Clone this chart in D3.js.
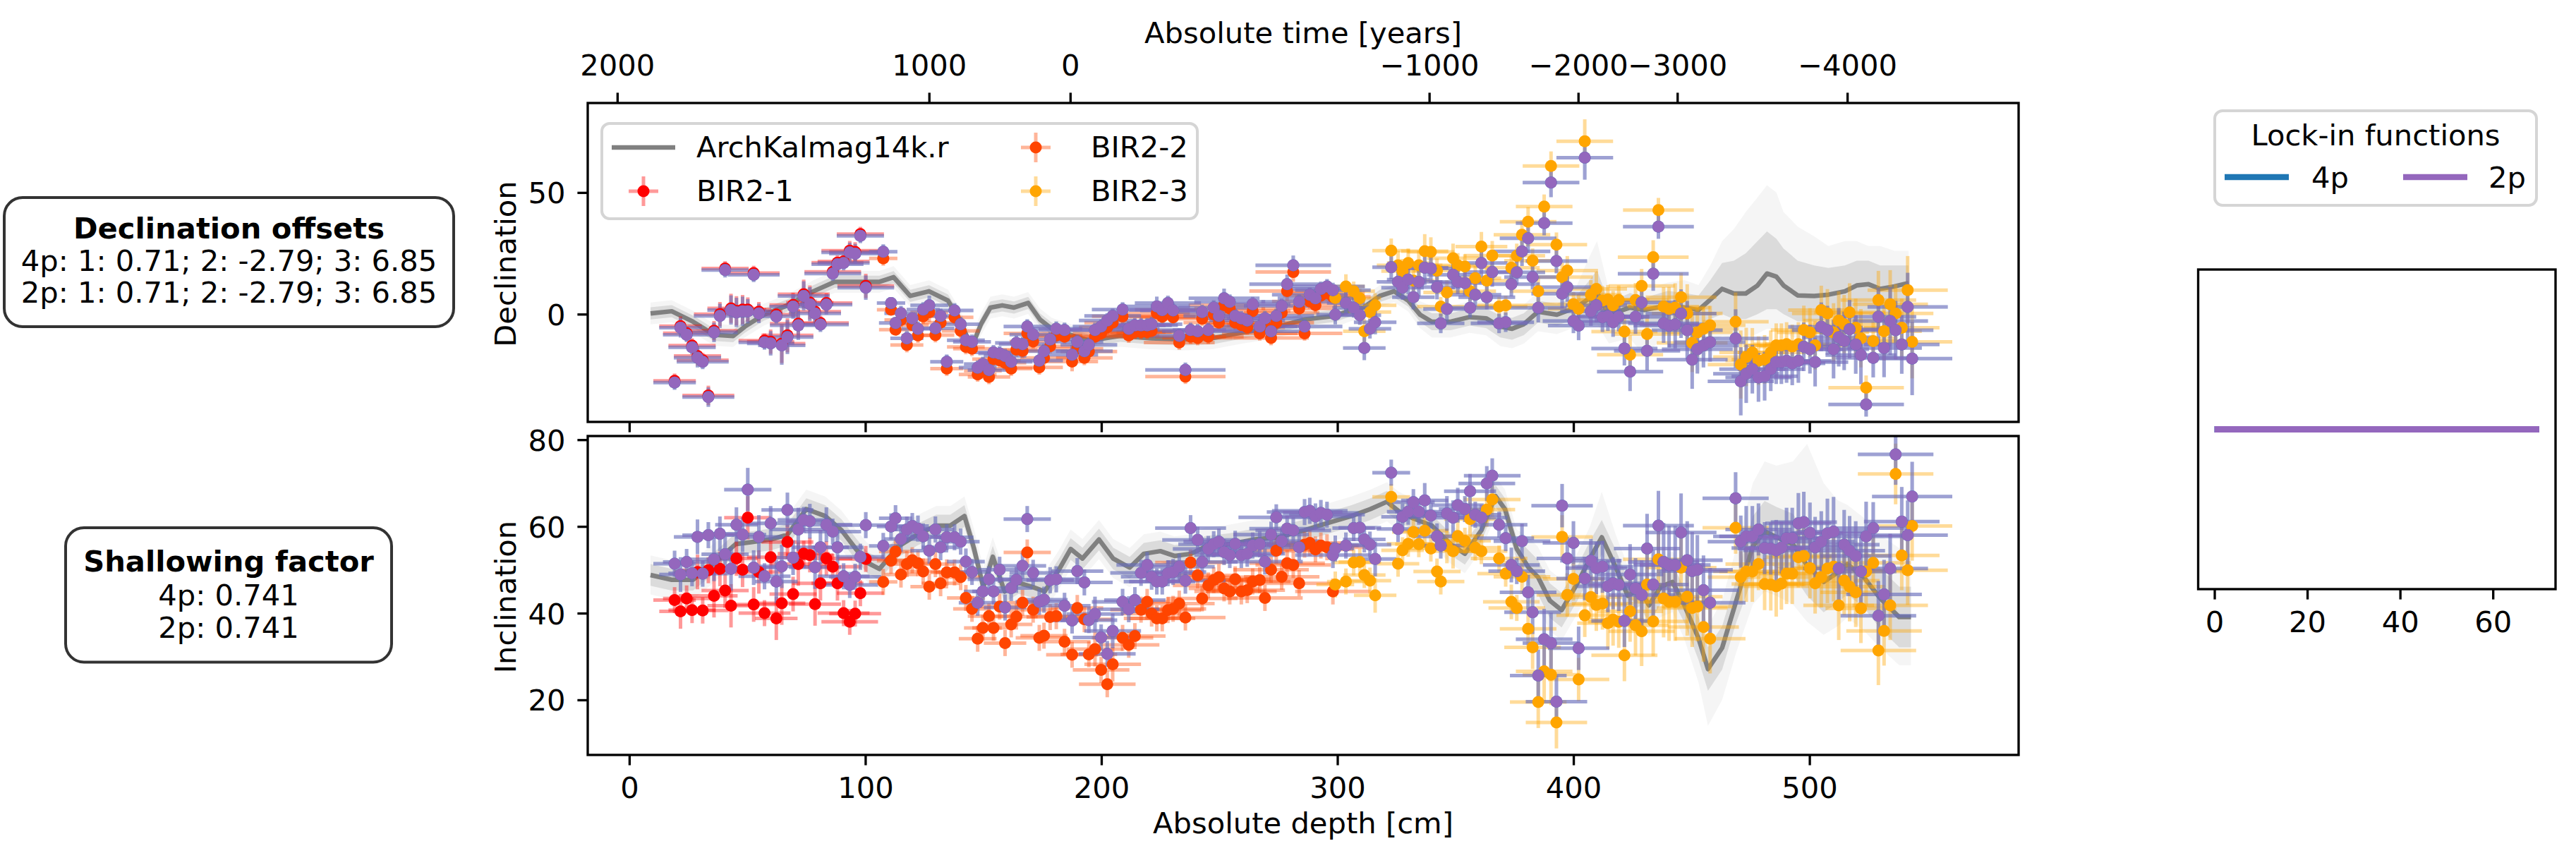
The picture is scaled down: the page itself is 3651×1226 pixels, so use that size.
<!DOCTYPE html>
<html><head><meta charset="utf-8">
<script src="https://cdn.jsdelivr.net/npm/d3@7"></script>
<style>body{margin:0;background:#fff}</style>
</head><body><svg id="chart" width="3651" height="1226" xmlns="http://www.w3.org/2000/svg"></svg>
<script>
// ---------------- DATA ----------------
const timeTickLabels = ["2000", "1000", "0", "\u22121000", "\u22122000", "\u22123000", "\u22124000"];
const timeTickDepth = [-5.1, 127, 186.8, 338.9, 402, 444, 516];
const depthTicks = [0, 100, 200, 300, 400, 500];
const decTicks = [0, 50];
const incTicks = [20, 40, 60, 80];
const lockTicks = [0, 20, 40, 60];

const lockNames = ["4p", "2p"];
const decOffsets4p = [0.71, -2.79, 6.85];
const decOffsets2p = [0.71, -2.79, 6.85];
const shallowing = [0.741, 0.741];

// lock-in functions (right panel)
const lockX = [0, 70];
const lock4p = [1, 1];
const lock2p = [1, 1];

// ArchKalmag14k.r model: mean, inner ensemble spread, outer ensemble spread
const modelDecDepth = [9,18,27,36,44,49,57,67,78,87,96,106,112,119,127,135,140,145,149,153,158,163,169,174,179,188,195,208,221,234,247,260,273,286,299,306,311,318,324,330,335,340,348,356,363,369,374,379,385,393,401,406,410,415,424,430,440,447,453,458,463,468,473,478,482,486,489,495,502,508,515,520,525,530,536,542];
const modelDec = [0.3,1.2,-3.1,-8.5,-9.0,-5.1,-0.2,3.6,9.4,13.3,13.3,13.3,15.2,7.5,9.4,5.6,-2.2,-13.8,-4.1,2.7,3.6,2.7,4.6,-2.2,-6.0,-8.9,-10.9,-8.9,-9.9,-10.4,-9.9,-7.5,-5.6,-2.2,-0.7,1.7,2.7,7.5,9.4,5.6,-0.2,-3.1,-3.1,-1.2,-1.7,-5.1,-6.0,-4.1,1.0,-0.2,2.7,6.0,9.0,-0.2,2.7,1.7,3.6,2.7,1.7,6.0,10.4,8.5,8.5,11.8,16.7,15.4,11.8,7.7,7.5,8.0,9.4,11.8,12.3,10.4,11.4,12.8];
const modelDecLo = [-2.2,-1.3,-5.6,-11,-11.5,-7.6,-2.7,1.1,6.9,10.8,10.8,10.8,12.7,5,6.9,3.1,-4.7,-16.3,-6.6,0.2,1.1,0.2,2.1,-4.7,-8.5,-11.4,-13.4,-11.4,-12.4,-12.9,-12.4,-10,-8.1,-4.7,-3.2,-0.8,0.2,5,6.9,3.1,-3.2,-6.6,-6.6,-4.7,-5.7,-9.6,-10.5,-8.6,-3.5,-4.7,-1.8,-1,0,-5.2,-3.3,-5.3,-2.4,-3.3,-4.3,-2,0,-2,-2,0,2,2,0,-3,-3,-2,0,0,0,-2,-2,0];
const modelDecHi = [2.8,3.7,-0.6,-6,-6.5,-2.6,2.3,6.1,11.9,15.8,15.8,15.8,17.7,10,11.9,8.1,0.3,-11.3,-1.6,5.2,6.1,5.2,7.1,0.3,-3.5,-6.4,-8.4,-6.4,-7.4,-7.9,-7.4,-5,-3.1,0.3,1.8,4.2,5.2,10,11.9,8.1,2.8,0.4,0.4,2.3,2.3,-0.6,-1.5,0.4,5.5,4.3,7.2,13,18,4.8,8.7,6.7,9.6,8.7,7.7,14,21,22,25,30,34,31,27,22,20,19,20,22,22,20,20,20];
const modelDecOLo = [-4.2,-3.3,-7.6,-13,-13.5,-9.6,-4.7,-0.9,4.9,8.8,8.8,8.8,10.7,3,4.9,1.1,-6.7,-18.3,-8.6,-1.8,-0.9,-1.8,0.1,-6.7,-10.5,-13.4,-15.4,-13.4,-14.4,-14.9,-14.4,-12,-10.1,-6.7,-5.2,-2.8,-1.8,3,4.9,1.1,-5.7,-9.6,-9.6,-7.7,-8.7,-13.1,-14,-12.1,-7,-8.2,-5.3,-5,-4,-12,-10,-17,-8,-9,-25,-12,-9,-10,-10,-8,-6,-6,-8,-10,-10,-8,-6,-6,-6,-8,-8,-6];
const modelDecOHi = [4.8,5.7,1.4,-4,-4.5,-0.6,4.3,8.1,13.9,17.8,17.8,17.8,19.7,12,13.9,10.1,2.3,-9.3,0.4,7.2,8.1,7.2,9.1,2.3,-1.5,-4.4,-6.4,-4.4,-5.4,-5.9,-5.4,-3,-1.1,2.3,3.8,6.2,7.2,12,13.9,10.1,5.3,3.4,3.4,5.3,5.3,2.9,2,3.9,9,7.8,10.7,22,30,10,12,10,13,14,12,20,30,35,42,48,53,50,42,36,32,28,30,30,28,28,26,26];

const modelIncDepth = [9,18,27,36,45,52,60,67,75,83,90,96,101,106,114,122,130,136,142,146,150,154,159,165,171,176,182,187,192,199,205,212,218,225,231,238,244,254,265,275,286,296,306,314,321,326,332,340,348,354,361,367,371,376,381,385,390,395,402,407,412,418,423,428,432,437,442,447,453,457,463,469,476,481,486,493,499,506,512,516,523,530,538,543];
const modelInc = [48.8,47.7,47.7,51.6,55.9,56.4,57.0,58.1,64.0,62.4,59.1,54.8,51.6,50.2,55.4,58.1,60.2,60.2,62.4,55,46,53,45,47,46,45,50,54.8,52.6,57.0,52.6,50.5,53.7,54.3,53.2,53.7,55.3,55.9,57.0,57.5,59.1,60.8,62.4,64.0,65.7,63.5,61.9,60.2,55.9,53.7,59.1,67,64.0,54.8,50.5,48.3,42.9,40.7,47.2,52.6,57.5,50.5,44.0,45.6,41.8,46.1,47.2,41.8,34.2,27.1,32.0,42.9,55.4,58.9,57.5,55.9,51.0,47.2,49.4,51.3,48.3,43.4,39.1,39.1];
const modelIncLo = [46.3,45.2,45.2,49.1,53.4,53.9,54.5,55.6,61.5,59.9,56.6,52.3,49.1,47.7,52.9,55.6,57.7,57.7,59.9,52.5,43.5,50.5,42.5,44.5,43.5,42.5,47.5,52.3,50.1,54.5,50.1,48,51.2,51.8,50.7,51.2,52.8,53.4,54.5,55,56.6,58.3,59.9,61.5,63.2,61,59.4,57.7,53.4,51.2,56.6,64.5,61.5,52.3,46.5,44.3,38.9,36.7,43.2,48.6,53.5,46.5,40,41.6,37.8,42.1,43.2,37.8,29.2,22.1,27,37.9,48.4,51.9,50.5,48.9,44,40.2,42.4,44.3,41.3,36.4,32.1,32.1];
const modelIncHi = [51.3,50.2,50.2,54.1,58.4,58.9,59.5,60.6,66.5,64.9,61.6,57.3,54.1,52.7,57.9,60.6,62.7,62.7,64.9,57.5,48.5,55.5,47.5,49.5,48.5,47.5,52.5,57.3,55.1,59.5,55.1,53,56.2,56.8,55.7,56.2,57.8,58.4,59.5,60,61.6,63.3,64.9,66.5,68.2,66,64.4,62.7,58.4,56.2,61.6,69.5,66.5,57.3,54.5,52.3,46.9,44.7,51.2,56.6,61.5,54.5,48,49.6,45.8,50.1,51.2,45.8,39.2,32.1,37,47.9,62.4,65.9,64.5,62.9,58,54.2,56.4,58.3,55.3,50.4,46.1,46.1];
const modelIncOLo = [44.3,43.2,43.2,47.1,51.4,51.9,52.5,53.6,59.5,57.9,54.6,50.3,47.1,45.7,50.9,53.6,55.7,55.7,57.9,50.5,41.5,48.5,40.5,42.5,41.5,40.5,45.5,50.3,48.1,52.5,48.1,46,49.2,49.8,48.7,49.2,50.8,51.4,52.5,53,54.6,56.3,57.9,59.5,61.2,59,57.4,55.7,51.4,49.2,54.6,62.5,59.5,50.3,43.5,41.3,35.9,33.7,40.2,45.6,49,43.5,37,38.6,34.8,39.1,40.2,34,24,14,20,31,42,45,44,42,38,35,37,39,36,32,28,28];
const modelIncOHi = [53.3,52.2,52.2,56.1,60.4,60.9,61.5,62.6,68.5,66.9,63.6,59.3,56.1,54.7,59.9,62.6,64.7,64.7,66.9,59.5,50.5,57.5,49.5,51.5,50.5,49.5,54.5,59.3,57.1,61.5,57.1,55,58.2,58.8,57.7,58.2,59.8,60.4,61.5,62,63.6,65.3,66.9,68.5,70.2,68,66.4,64.7,60.4,58.2,63.6,71.5,68.5,59.3,57.5,55.3,49.9,47.7,54.2,60,68,58,51,52.6,48.8,53.1,54.2,49,44,37,43,55,70,75,74,75,79,70,66,65,62,58,55,54];

// BIR2-1
const b1Depth = [19.2,21.7,24.3,26.6,28.9,31.1,33.5,35.9,38.4,40.6,43.1,45.4,48.0,50.2,52.7,54.9,57.3,59.9,62.3,64.6,67.0,69.4,71.6,73.9,76.5,78.7,81.0,83.5,86.2,88.2,90.8,93.4,95.7,97.9,100.2];
const b1DepthErr = [9,9,10,10,10,11,11,10,11,10,10,9,10,10,11,10,11,10,9,10,11,10,12,11,10,11,12,11,12,11,11,12,11,10,12];
const b1Dec = [-27.4,-4.9,-7.8,-12.9,-17.2,-18.9,-33.4,-6.8,0.0,18.8,2.4,1.4,1.9,1.9,16.9,1.0,-10.9,-11.3,-0.2,-12.1,-8.7,3.8,-3.9,8.2,4.8,1.0,-3.6,4.6,17.4,21.2,21.7,26.1,25.6,32.9,11.6];
const b1DecErr = [3,4,3,3,4,3,4,4,5,3,6,6,6,5,3,4,3,5,3,8,7,5,6,6,7,5,3,4,3,3,3,4,4,3,5];
const b1Inc = [43.0,40.4,43.4,40.7,49.5,40.6,49.9,44.0,50.2,45.2,41.7,52.6,50.0,62.0,42.0,49.5,40.0,52.9,38.8,42.3,56.4,44.4,51.3,53.7,53.4,42.1,46.9,52.6,50.7,46.9,40.0,38.0,39.9,44.6,52.5];
const b1IncErr = [3,4,3,3,4,3,3,5,4,4,5,4,4,5,4,5,3,4,5,5,4,4,5,3,4,5,4,4,3,4,3,3,3,3,3];
const b1DecCorr = [-28.1,-5.6,-8.5,-13.6,-17.9,-19.6,-34.1,-7.5,-0.7,18.1,1.7,0.7,1.2,1.2,16.2,0.3,-11.6,-12.0,-0.9,-12.8,-9.4,3.1,-4.6,7.5,4.1,0.3,-4.3,3.9,16.7,20.5,21.0,25.4,24.9,32.2,10.9];
const b1IncCorr = [51.4,48.9,51.8,49.2,57.6,49.1,58.0,52.4,58.3,53.6,50.2,60.4,58.1,68.5,50.5,57.6,48.5,60.7,47.3,50.8,63.8,52.8,59.3,61.5,61.2,50.6,55.2,60.4,58.8,55.2,48.5,46.5,48.4,53.0,60.3];

// BIR2-2
const b2Depth = [107.6,110.9,112.8,115.1,117.6,119.9,122.3,124.5,127.1,129.7,131.9,134.5,137.8,140.4,142.6,145.2,147.6,149.8,152.4,154.3,156.9,159.2,161.8,164.0,166.6,168.6,171.1,173.7,175.7,178.3,180.9,184.4,187.6,189.8,192.8,194.7,197.3,199.9,202.5,204.8,209.0,211.6,214.2,216.8,219.4,221.3,223.5,225.8,228.2,230.4,233.0,235.6,237.8,240.8,242.7,245.3,247.6,249.8,252.0,254.4,256.7,259.3,261.8,264.1,267.1,269.3,271.9,274.1,276.4,278.7,281.3,283.8,286.1,288.3,290.7,293.0,295.6,298.1];
const b2DepthErr = [6,6,7,7,7,7,7,7,8,8,8,7,8,8,8,8,8,8,9,9,9,9,9,9,10,10,10,10,10,10,11,11,11,11,12,12,12,12,12,12,13,13,13,13,13,13,14,14,14,14,15,17,15,15,15,15,15,15,15,15,15,15,16,16,16,16,16,16,16,16,16,16,16,16,16,16,16,16];
const b2Dec = [22.9,1.8,-6.4,-2.4,-12.7,-4.5,-8.8,-0.9,0.8,-8.6,-3.5,-22.4,-1.3,-6.9,-13.5,-14.2,-24.8,-23.3,-25.8,-18.5,-19.0,-20.0,-22.4,-14.6,-15.1,-7.9,-11.2,-21.9,-18.0,-13.2,-8.8,-9.3,-19.5,-14.2,-18.0,-15.4,-9.3,-7.9,-5.4,-3.5,-0.9,-8.8,-7.4,-7.4,-7.4,-6.9,0.4,-1.1,1.8,-1.3,-11.7,-25.7,-9.3,-9.8,-1.9,-9.3,-0.1,-3.5,3.7,2.3,-3.5,-4.5,-5.4,1.3,-7.9,-4.5,-9.8,-3.5,0.6,9.5,17.3,2.3,-7.9,5.2,3.7,7.6,8.6,7.1];
const b2DecErr = [3,2,2,3,3,2,3,3,4,3,3,3,3,3,3,3,3,3,3,3,3,3,3,3,3,3,3,3,3,3,3,3,4,3,3,3,3,3,3,3,3,3,3,3,3,3,4,3,3,3,3,3,3,3,3,3,3,3,4,3,3,3,3,3,3,3,3,3,3,4,4,3,3,3,3,3,3,3];
const b2Inc = [47.2,52.1,54.2,48.9,51.3,52.2,51.5,49.6,46.1,51.3,46.9,49.4,49.4,48.3,43.5,41.0,34.1,36.6,39.3,36.6,41.5,33.1,37.4,39.2,42.4,54.0,40.8,34.3,34.8,39.1,39.3,33.4,30.4,41.2,38.6,30.5,31.7,26.9,23.6,28.2,34.3,32.7,34.7,40.8,42.6,39.9,38.8,38.8,40.7,41.0,42.2,39.0,51.7,48.7,43.4,46.4,47.6,48.3,45.7,45.0,47.8,45.0,45.3,47.3,47.6,43.5,50.0,54.4,48.4,51.5,51.1,46.9,55.8,56.2,54.7,55.6,55.2,45.0];
const b2IncErr = [3,3,3,3,3,3,3,3,3,3,3,3,3,3,3,3,3,3,3,3,3,3,3,3,3,3,3,3,3,3,3,3,3,3,3,3,4,3,3,4,3,3,3,3,3,3,3,3,3,3,3,3,3,3,3,3,3,3,3,3,3,3,3,3,3,3,3,3,3,3,3,3,3,3,3,3,3,3];
const b2DecCorr = [25.7,4.6,-3.6,0.4,-9.9,-1.7,-6.0,1.9,3.6,-5.8,-0.7,-19.6,1.5,-4.1,-10.7,-11.4,-22.0,-20.5,-23.0,-15.7,-16.2,-17.2,-19.6,-11.8,-12.3,-5.1,-8.4,-19.1,-15.2,-10.4,-6.0,-6.5,-16.7,-11.4,-15.2,-12.6,-6.5,-5.1,-2.6,-0.7,1.9,-6.0,-4.6,-4.6,-4.6,-4.1,3.2,1.7,4.6,1.5,-8.9,-22.9,-6.5,-7.0,0.9,-6.5,2.7,-0.7,6.5,5.1,-0.7,-1.7,-2.6,4.1,-5.1,-1.7,-7.0,-0.7,3.4,12.3,20.1,5.1,-5.1,8.0,6.5,10.4,11.4,9.9];
const b2IncCorr = [55.5,60.0,61.9,57.1,59.3,60.1,59.5,57.7,54.4,59.3,55.2,57.5,57.5,56.5,51.9,49.5,42.4,45.0,47.8,45.0,50.0,41.3,45.8,47.7,50.9,61.7,49.3,42.6,43.1,47.6,47.8,41.7,38.3,49.7,47.1,38.4,39.8,34.4,30.6,35.9,42.6,40.9,43.0,49.3,51.1,48.4,47.3,47.3,49.2,49.5,50.7,47.5,59.6,56.9,51.8,54.8,55.9,56.5,54.1,53.4,56.0,53.4,53.7,55.6,55.9,51.9,58.1,62.1,56.6,59.5,59.1,55.2,63.3,63.6,62.3,63.1,62.7,53.4];

// BIR2-3
const b3Depth = [299.1,303.6,306.9,309.5,311.4,313.8,316.0,322.8,325.7,327.6,330.0,332.2,334.5,337.0,339.6,342.2,343.8,346.4,349.0,351.0,354.0,356.2,358.4,361.0,363.3,365.6,368.5,371.3,373.7,376.0,378.2,380.8,382.7,385.1,387.6,390.5,392.8,395.2,397.4,400.0,402.2,404.8,407.4,409.7,412.3,414.6,416.8,419.2,421.6,424.0,426.3,428.9,431.2,433.8,436.0,438.2,440.5,443.1,445.6,448.2,450.3,452.5,455.1,457.9,468.7,470.9,473.2,475.8,478.4,481.0,483.6,485.9,488.1,490.3,492.7,495.3,497.6,500.2,502.4,505.0,507.6,510.2,512.4,514.7,517.0,519.6,521.8,524.0,527.0,529.2,531.6,534.2,536.5,539.1,541.6,543.5];
const b3DepthErr = [8,8,9,9,9,9,9,8,9,9,9,9,10,10,10,10,10,10,11,11,11,11,11,11,12,12,12,12,12,12,12,12,12,12,12,12,13,13,13,13,13,12,13,13,13,13,13,13,14,14,14,14,14,15,15,15,15,15,15,15,15,15,15,15,14,14,14,14,14,14,14,14,14,14,14,14,14,14,14,14,15,15,15,15,15,15,15,16,16,16,16,16,16,16,17,17];
const b3Dec = [6.7,11.4,9.4,6.5,-7.0,0.9,3.6,26.1,20.1,17.7,21.0,13.8,20.1,25.9,25.6,17.9,3.1,8.9,23.0,20.1,19.6,9.4,14.8,27.8,13.8,24.1,3.1,3.6,19.1,24.0,32.6,38.0,22.0,9.4,44.2,60.9,28.6,15.2,17.9,4.1,2.2,71.1,8.0,10.4,5.6,6.0,3.6,5.8,-7.2,-16.7,5.8,11.6,-8.2,23.4,42.8,3.1,2.2,2.7,7.0,0.3,-11.8,-7.5,-6.0,-4.6,-3.1,-20.7,-17.6,-15.7,-19.1,-18.6,-15.7,-12.8,-12.8,-12.3,-13.3,-12.3,-6.5,-7.5,-12.8,1.7,0.3,-7.5,-2.6,-4.1,0.7,-5.6,-9.9,-30.2,-11.1,5.8,-7.0,4.1,0.3,-5.6,9.9,-11.4];
const b3DecErr = [4,5,4,4,5,4,5,5,6,5,6,5,6,7,6,5,4,5,6,5,5,4,5,6,5,6,4,4,5,5,6,6,5,6,5,6,5,6,6,5,6,9,6,7,6,6,6,6,7,8,7,7,8,7,5,8,9,10,10,12,12,10,9,8,12,14,12,10,10,10,9,9,9,9,9,9,10,10,10,10,10,12,12,12,12,12,12,5,8,12,12,14,12,12,14,15];
const b3Inc = [46.6,47.3,51.7,51.8,48.8,47.5,44.1,66.8,51.4,54.5,56.0,58.7,55.9,59.0,54.9,49.6,47.3,55.5,54.3,57.8,56.7,61.7,55.1,54.3,63.9,66.2,52.6,49.1,42.6,41.2,48.4,36.4,32.1,19.5,26.6,25.8,14.8,57.6,44.2,47.9,24.7,39.5,43.7,41.9,42.2,37.7,38.5,38.0,30.3,40.4,37.2,35.8,46.6,38.1,52.4,43.4,42.6,42.6,50.5,43.8,41.2,41.5,36.8,34.1,59.7,48.3,49.6,49.6,51.3,46.7,46.6,46.2,46.8,49.1,49.1,52.9,53.2,50.4,46.9,48.3,50.3,50.7,41.8,47.5,46.1,44.8,41.1,49.6,51.6,31.4,35.9,41.8,72.1,53.3,49.9,60.1];
const b3IncErr = [3,3,3,3,3,3,4,3,3,3,3,3,3,4,3,3,3,4,4,4,3,4,3,3,4,4,3,3,4,3,4,4,5,6,7,7,6,5,5,5,5,5,5,6,6,6,6,6,6,7,7,8,8,8,8,9,9,9,9,9,9,8,8,8,6,6,7,7,6,6,6,7,6,7,7,7,7,7,7,7,8,8,8,8,8,8,8,8,6,8,8,8,7,8,8,8];
const b3DecCorr = [-0.2,4.6,2.6,-0.4,-13.9,-6.0,-3.3,19.3,13.3,10.9,14.2,7.0,13.3,19.1,18.8,11.1,-3.8,2.1,16.2,13.3,12.8,2.6,8.0,21.0,7.0,17.3,-3.8,-3.3,12.3,17.2,25.8,31.2,15.2,2.6,37.4,54.1,21.8,8.4,11.1,-2.8,-4.7,64.3,1.2,3.6,-1.3,-0.9,-3.3,-1.1,-14.1,-23.6,-1.1,4.8,-15.1,16.6,36.0,-3.8,-4.7,-4.2,0.2,-6.6,-18.7,-14.4,-12.9,-11.5,-10.0,-27.6,-24.5,-22.6,-26.0,-25.5,-22.6,-19.7,-19.7,-19.2,-20.2,-19.2,-13.4,-14.4,-19.7,-5.2,-6.6,-14.4,-9.5,-11.0,-6.2,-12.5,-16.8,-37.1,-18.0,-1.1,-13.9,-2.8,-6.6,-12.5,3.0,-18.3];
const b3IncCorr = [54.9,55.6,59.6,59.7,57.0,55.8,52.5,72.4,59.4,62.2,63.4,65.6,63.4,66.0,62.5,57.7,55.6,63.0,62.0,64.9,64.0,68.1,62.7,62.0,69.9,71.7,60.4,57.3,51.1,49.7,56.6,44.8,40.2,25.6,34.0,33.1,19.6,64.8,52.6,56.2,31.9,48.0,52.1,50.4,50.7,46.2,46.9,46.5,38.2,48.9,45.7,44.2,54.9,46.6,60.2,51.8,51.1,51.1,58.6,52.2,49.7,50.0,45.3,42.4,66.5,56.5,57.7,57.7,59.3,55.0,54.9,54.5,55.1,57.3,57.3,60.7,61.0,58.5,55.2,56.5,58.4,58.8,50.3,55.8,54.4,53.2,49.6,57.7,59.6,39.4,44.3,50.3,76.6,61.1,58.0,66.9];

const seriesNames = ["BIR2-1", "BIR2-2", "BIR2-3"];
const seriesColors = ["#ff0000", "#ff4500", "#ffa500"];
const lockColors = ["#1f77b4", "#9467bd"];

// ---------------- DRAWING ----------------
const FS = 41.67, FONT = '"DejaVu Sans", Verdana, sans-serif';
const svg = d3.select("#chart").attr("font-family", FONT);
const P1 = {l: 833, r: 2861, t: 146, b: 598};
const P2 = {l: 833, r: 2861, t: 618, b: 1070};
const P3 = {l: 3115.5, r: 3622, t: 382, b: 835};
const SW = 3.33, TL = 14.6;

const x = d3.scaleLinear().domain([-17.6, 588.6]).range([P1.l, P1.r]);
const yD = d3.scaleLinear().domain([-44.3, 86.8]).range([P1.b, P1.t]);
const yI = d3.scaleLinear().domain([7.3, 80.85]).range([P2.b, P2.t]);
const xL = d3.scaleLinear().domain([-3.5, 73.5]).range([P3.l, P3.r]);
const yL = d3.scaleLinear().domain([0.945, 1.055]).range([P3.b, P3.t]);

const defs = svg.append("defs");
[["clipD", P1], ["clipI", P2], ["clipL", P3]].forEach(([id, p]) => {
  defs.append("clipPath").attr("id", id).append("rect")
    .attr("x", p.l).attr("y", p.t).attr("width", p.r - p.l).attr("height", p.b - p.t);
});

const series = [
  {depth: b1Depth, dErr: b1DepthErr, dec: b1Dec, decErr: b1DecErr, inc: b1Inc, incErr: b1IncErr, decC: b1DecCorr, incC: b1IncCorr},
  {depth: b2Depth, dErr: b2DepthErr, dec: b2Dec, decErr: b2DecErr, inc: b2Inc, incErr: b2IncErr, decC: b2DecCorr, incC: b2IncCorr},
  {depth: b3Depth, dErr: b3DepthErr, dec: b3Dec, decErr: b3DecErr, inc: b3Inc, incErr: b3IncErr, decC: b3DecCorr, incC: b3IncCorr}
];

function drawModel(g, dep, mean, lo, hi, olo, ohi, ys) {
  const area = (a, b) => d3.area().x((d, i) => x(dep[i])).y0((d, i) => ys(a[i])).y1((d, i) => ys(b[i]));
  g.append("path").datum(dep).attr("d", area(olo, ohi)).attr("fill", "#808080").attr("fill-opacity", 0.08);
  g.append("path").datum(dep).attr("d", area(lo, hi)).attr("fill", "#808080").attr("fill-opacity", 0.22);
  g.append("path").datum(dep)
    .attr("d", d3.line().x((d, i) => x(dep[i])).y((d, i) => ys(mean[i])))
    .attr("fill", "none").attr("stroke", "#808080").attr("stroke-width", 6.5).attr("stroke-linejoin", "round");
}

function drawBars(g, s, vals, verr, ys, color) {
  const idx = d3.range(s.depth.length);
  const gb = g.append("g").attr("stroke", color).attr("stroke-opacity", 0.4).attr("stroke-width", 5);
  gb.selectAll("line.h").data(idx).join("line").attr("class", "h")
    .attr("x1", i => x(s.depth[i] - s.dErr[i])).attr("x2", i => x(s.depth[i] + s.dErr[i]))
    .attr("y1", i => ys(vals[i])).attr("y2", i => ys(vals[i]));
  gb.selectAll("line.v").data(idx).join("line").attr("class", "v")
    .attr("x1", i => x(s.depth[i])).attr("x2", i => x(s.depth[i]))
    .attr("y1", i => ys(vals[i] - verr[i])).attr("y2", i => ys(vals[i] + verr[i]));
}
function drawMarkers(g, s, vals, ys, color) {
  g.append("g").selectAll("circle").data(d3.range(s.depth.length)).join("circle")
    .attr("cx", i => x(s.depth[i])).attr("cy", i => ys(vals[i])).attr("r", 8.5).attr("fill", color);
}

function drawPanel(clip, key, errKey, corrKey, ys, mdl) {
  const g = svg.append("g").attr("clip-path", `url(#${clip})`);
  drawModel(g, ...mdl, ys);
  series.forEach((s, k) => drawBars(g, s, s[key], s[errKey], ys, seriesColors[k]));
  lockColors.forEach(c => series.forEach(s => drawBars(g, s, s[corrKey], s[errKey], ys, c)));
  series.forEach((s, k) => drawMarkers(g, s, s[key], ys, seriesColors[k]));
  lockColors.forEach(c => series.forEach(s => drawMarkers(g, s, s[corrKey], ys, c)));
}
drawPanel("clipD", "dec", "decErr", "decC", yD,
  [modelDecDepth, modelDec, modelDecLo, modelDecHi, modelDecOLo, modelDecOHi]);
drawPanel("clipI", "inc", "incErr", "incC", yI,
  [modelIncDepth, modelInc, modelIncLo, modelIncHi, modelIncOLo, modelIncOHi]);

// lock-in panel
const gL = svg.append("g").attr("clip-path", "url(#clipL)");
[[lock4p, lockColors[0]], [lock2p, lockColors[1]]].forEach(([vals, c]) => {
  gL.append("path").datum(lockX)
    .attr("d", d3.line().x((d, i) => xL(lockX[i])).y((d, i) => yL(vals[i])))
    .attr("fill", "none").attr("stroke", c).attr("stroke-width", 8.8);
});

// axes
function styleAxis(g) {
  g.attr("font-size", FS).attr("font-family", FONT);
  g.select(".domain").remove();
  g.selectAll(".tick line").attr("stroke", "#000").attr("stroke-width", SW);
  g.selectAll(".tick text").attr("fill", "#000");
}
svg.append("g").attr("transform", `translate(0,${P1.b})`)
  .call(d3.axisBottom(x).tickValues(depthTicks).tickSize(TL).tickFormat(""))
  .call(styleAxis);
svg.append("g").attr("transform", `translate(0,${P2.b})`)
  .call(d3.axisBottom(x).tickValues(depthTicks).tickSize(TL).tickPadding(16.5))
  .call(styleAxis).call(g => g.selectAll(".tick text").attr("dy", "0.72em"));
svg.append("g").attr("transform", `translate(0,${P1.t})`)
  .call(d3.axisTop(x).tickValues(timeTickDepth).tickSize(TL).tickPadding(24)
    .tickFormat((d, i) => timeTickLabels[i]))
  .call(styleAxis);
svg.append("g").attr("transform", `translate(${P1.l},0)`)
  .call(d3.axisLeft(yD).tickValues(decTicks).tickSize(TL).tickPadding(17))
  .call(styleAxis).call(g => g.selectAll(".tick text").attr("dy", "0.36em"));
svg.append("g").attr("transform", `translate(${P2.l},0)`)
  .call(d3.axisLeft(yI).tickValues(incTicks).tickSize(TL).tickPadding(17))
  .call(styleAxis).call(g => g.selectAll(".tick text").attr("dy", "0.36em"));
svg.append("g").attr("transform", `translate(0,${P3.b})`)
  .call(d3.axisBottom(xL).tickValues(lockTicks).tickSize(TL).tickPadding(16))
  .call(styleAxis).call(g => g.selectAll(".tick text").attr("dy", "0.72em"));

// frames
[P1, P2, P3].forEach(p => svg.append("rect").attr("x", p.l).attr("y", p.t)
  .attr("width", p.r - p.l).attr("height", p.b - p.t)
  .attr("fill", "none").attr("stroke", "#000").attr("stroke-width", SW));

// axis labels
function txt(xp, yp, s, opts = {}) {
  const t = svg.append("text").attr("x", xp).attr("y", yp).text(s)
    .attr("font-size", FS).attr("fill", "#000").attr("text-anchor", opts.anchor || "middle");
  if (opts.bold) t.attr("font-weight", "bold");
  if (opts.rot) t.attr("transform", `rotate(-90,${xp},${yp})`);
  return t;
}
txt(1847, 61, "Absolute time [years]");
txt(1847, 1181, "Absolute depth [cm]");
txt(731, 374, "Declination", {rot: true});
txt(731, 846, "Inclination", {rot: true});

// main legend
svg.append("rect").attr("x", 853).attr("y", 175).attr("width", 844).attr("height", 135)
  .attr("rx", 11).attr("fill", "#fff").attr("fill-opacity", 0.8).attr("stroke", "#d5d5d5").attr("stroke-width", 4);
svg.append("line").attr("x1", 867).attr("x2", 957).attr("y1", 209).attr("y2", 209)
  .attr("stroke", "#808080").attr("stroke-width", 6.5);
txt(987, 223.4, "ArchKalmag14k.r", {anchor: "start"});
const legPos = [[912, 271, 987, 284.7], [1468, 209, 1546, 223.4], [1468, 271, 1546, 284.7]];
seriesNames.forEach((nm, k) => {
  const [cx, cy, tx, ty] = legPos[k];
  const gl = svg.append("g");
  gl.append("line").attr("x1", cx - 21).attr("x2", cx + 21).attr("y1", cy).attr("y2", cy)
    .attr("stroke", seriesColors[k]).attr("stroke-opacity", 0.4).attr("stroke-width", 5);
  gl.append("line").attr("x1", cx).attr("x2", cx).attr("y1", cy - 21).attr("y2", cy + 21)
    .attr("stroke", seriesColors[k]).attr("stroke-opacity", 0.4).attr("stroke-width", 5);
  gl.append("circle").attr("cx", cx).attr("cy", cy).attr("r", 8.5).attr("fill", seriesColors[k]);
  txt(tx, ty, nm, {anchor: "start"});
});

// lock-in legend
svg.append("rect").attr("x", 3139).attr("y", 157).attr("width", 456).attr("height", 134)
  .attr("rx", 11).attr("fill", "#fff").attr("stroke", "#d5d5d5").attr("stroke-width", 4);
txt(3367, 205.6, "Lock-in functions");
[[3153, 3276], [3406, 3527]].forEach(([lx, tx], k) => {
  svg.append("line").attr("x1", lx).attr("x2", lx + 91).attr("y1", 251).attr("y2", 251)
    .attr("stroke", lockColors[k]).attr("stroke-width", 8.3);
  txt(tx, 265.7, lockNames[k], {anchor: "start"});
});

// info boxes
const fmt = v => String(v);
svg.append("rect").attr("x", 6).attr("y", 280).attr("width", 637).attr("height", 183)
  .attr("rx", 26).attr("fill", "#fff").attr("stroke", "#333").attr("stroke-width", 4);
txt(324.5, 338, "Declination offsets", {bold: true});
[decOffsets4p, decOffsets2p].forEach((offs, k) => {
  txt(324.5, 383.5 + k * 45.5, `${lockNames[k]}: ` + offs.map((o, j) => `${j + 1}: ${fmt(o)}`).join("; "));
});
svg.append("rect").attr("x", 93).attr("y", 748).attr("width", 462).attr("height", 190.5)
  .attr("rx", 26).attr("fill", "#fff").attr("stroke", "#333").attr("stroke-width", 4);
txt(324, 809.6, "Shallowing factor", {bold: true});
shallowing.forEach((f, k) => txt(324, 857.5 + k * 46, `${lockNames[k]}: ${f}`));
</script></body></html>
